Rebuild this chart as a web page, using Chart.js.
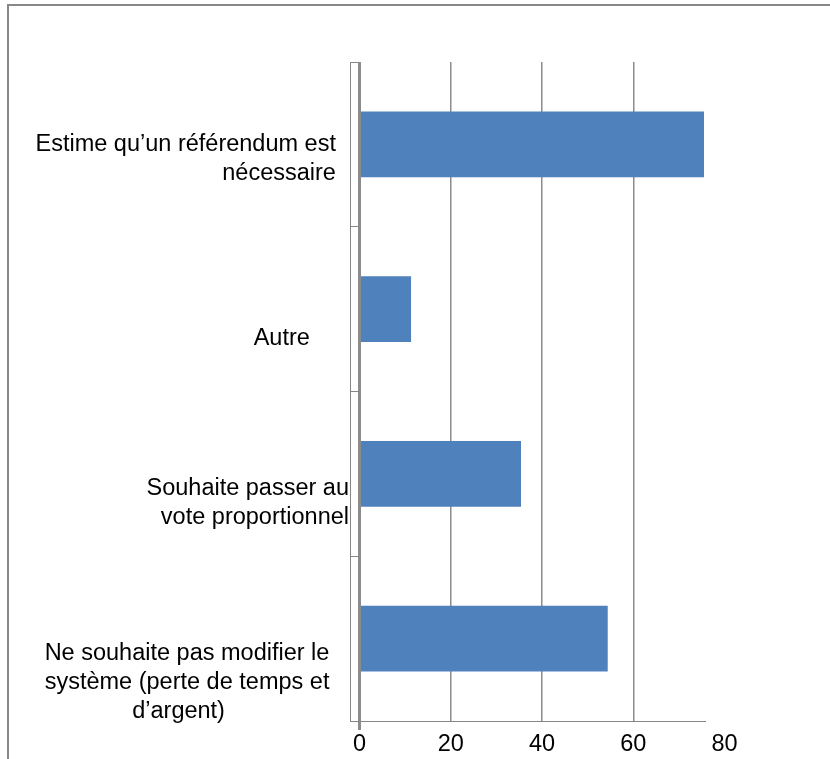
<!DOCTYPE html>
<html>
<head>
<meta charset="utf-8">
<script src="https://cdn.jsdelivr.net/npm/chart.js@4.4.0/dist/chart.umd.min.js"></script>
<style>
  html, body { margin: 0; padding: 0; background: #fff; }
  #wrap { position: relative; width: 830px; height: 759px; overflow: hidden; }
  #frame { position: absolute; left: 7px; top: 4px; right: -10px; bottom: -10px;
           border-top: 2px solid #878787; border-left: 2px solid #878787; }
  canvas { position: absolute; left: 0; top: 0; }
</style>
</head>
<body>
<div id="wrap">
  <div id="frame"></div>
  <canvas id="chart" width="830" height="759"></canvas>
</div>
<script>
// chart data
const categories = [
  ["Estime qu’un référendum est", "nécessaire"],
  ["Autre"],
  ["Souhaite passer au", "vote proportionnel"],
  ["Ne souhaite pas modifier le", "système (perte de temps et", "d’argent)"]
];
const values = [75.5, 11.3, 35.4, 54.4];
const xTicks = [0, 20, 40, 60, 80];

// the Excel original places its labels a bit off-centre
const labelDrop = [1, 2, 2, 3];                          // blank lines above each label
const labelGap = [[16, 16], [40], [0, 0], [22, 22, 121]]; // px left free after each line

const FAMILY = '"Liberation Sans", Arial, sans-serif';
const SIZE = 23.5;
const GRID = "#8c8c8c";
const AXIS = "#868686";
const xMax = Math.max(...values);

const meas = document.createElement("canvas").getContext("2d");
meas.font = SIZE + "px " + FAMILY;
const spaceW = meas.measureText(" ").width;

function padLine(line, px) {
  return line + " ".repeat(Math.round(px / spaceW));
}

function yLabel(i) {
  const lines = categories[i].map((l, j) => padLine(l, labelGap[i][j]));
  return Array(labelDrop[i]).fill("").concat(lines);
}

new Chart(document.getElementById("chart"), {
  type: "bar",
  data: {
    labels: categories.map((c, i) => i),
    datasets: [{
      data: values,
      backgroundColor: "#4f81bd",
      borderWidth: 0,
      barPercentage: 0.4,
      categoryPercentage: 1
    }]
  },
  options: {
    indexAxis: "y",
    responsive: false,
    animation: false,
    layout: { padding: { top: 62, right: 126, left: 0, bottom: 0 } },
    plugins: {
      legend: { display: false },
      tooltip: { enabled: false }
    },
    scales: {
      x: {
        type: "linear",
        min: -2.08,
        max: xMax,
        afterBuildTicks: s => { s.ticks = xTicks.map(v => ({ value: v })); },
        afterFit: s => { s.height = 38; s.paddingLeft = 0; s.paddingRight = 0; },
        grid: {
          color: c => (c.tick && c.tick.value > xMax) ? "rgba(0,0,0,0)" : GRID,
          lineWidth: c => (c.tick && c.tick.value === 0) ? 3 : 1.5,
          tickLength: 9,
          tickColor: c => (c.tick && c.tick.value === 0) ? GRID : "rgba(0,0,0,0)"
        },
        border: { display: true, color: AXIS, width: 1 },
        ticks: {
          font: { family: FAMILY, size: SIZE, lineHeight: 1.2 },
          color: "#000",
          padding: 0,
          autoSkip: false,
          maxRotation: 0
        }
      },
      y: {
        type: "category",
        offset: true,
        afterFit: s => { s.width = 350; s.paddingTop = 0; s.paddingBottom = 0; },
        grid: { offset: true, drawOnChartArea: false, tickLength: -9, color: AXIS, lineWidth: 1 },
        border: { display: true, color: AXIS, width: 1 },
        ticks: {
          font: { family: FAMILY, size: SIZE, lineHeight: 29 / SIZE },
          color: "#000",
          padding: 10,
          autoSkip: false,
          callback: (v, i) => yLabel(i)
        }
      }
    }
  }
});
</script>
</body>
</html>
